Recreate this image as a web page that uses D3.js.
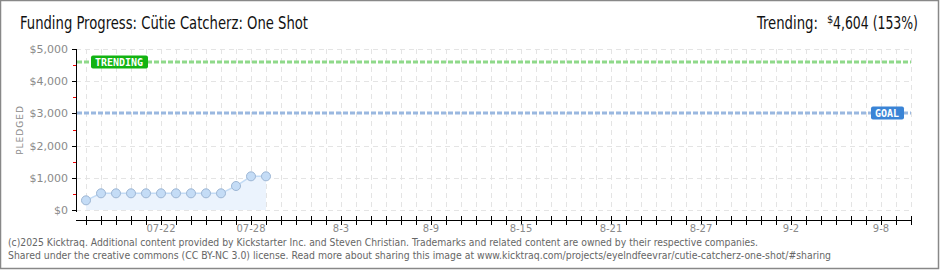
<!DOCTYPE html>
<html><head><meta charset="utf-8">
<script src="https://cdn.jsdelivr.net/npm/d3@7"></script>
<style>body{margin:0;background:#fff}svg{display:block}</style>
</head><body>
<svg id="c" width="940" height="270"></svg>
<script>
const dates = ["2025-07-17","2025-07-18","2025-07-19","2025-07-20","2025-07-21","2025-07-22","2025-07-23","2025-07-24","2025-07-25","2025-07-26","2025-07-27","2025-07-28","2025-07-29"];
const pledged = [300,518,518,518,518,518,518,518,518,518,745,1046,1046];
const goal = 3000;
const trending = 4604;
const yTicks = [0,1000,2000,3000,4000,5000];
const yTickLabels = ["$0","$1,000","$2,000","$3,000","$4,000","$5,000"];
const xLabelDates = ["2025-07-22","2025-07-28","2025-08-03","2025-08-09","2025-08-15","2025-08-21","2025-08-27","2025-09-02","2025-09-08"];
const xLabels = ["07-22","07-28","8-3","8-9","8-15","8-21","8-27","9-2","9-8"];
const titleText = "Funding Progress: Cütie Catcherz: One Shot";
const trendText = "Trending:";
const trendValue = "$4,604 (153%)";
const footer1 = "(c)2025 Kicktraq. Additional content provided by Kickstarter Inc. and Steven Christian. Trademarks and related content are owned by their respective companies.";
const footer2 = "Shared under the creative commons (CC BY-NC 3.0) license. Read more about sharing this image at www.kicktraq.com/projects/eyelndfeevrar/cutie-catcherz-one-shot/#sharing";

const DAY = 86400000;
const svg = d3.select("#c");
const parse = s => new Date(s + "T00:00:00Z");
const x = d3.scaleUtc()
  .domain([new Date(parse("2025-07-17").getTime() - DAY*2/3), new Date(parse("2025-09-10").getTime() + DAY/15)])
  .range([76, 912]);
const y = d3.scaleLinear().domain([0, 5000]).range([210, 49]);
const FONT_T = "'Liberation Sans Narrow','DejaVu Sans Condensed',sans-serif";

// border
svg.append("rect").attr("x",0.5).attr("y",0.5).attr("width",938).attr("height",268)
  .attr("fill","#fff").attr("stroke","#888").attr("stroke-width",1.5);

// title
svg.append("text").attr("x",20).attr("y",29).attr("font-family",FONT_T)
  .attr("font-size",17).attr("fill","#111").attr("textLength",288).attr("lengthAdjust","spacingAndGlyphs").text(titleText);
svg.append("text").attr("x",757).attr("y",29).attr("font-family",FONT_T).attr("font-size",17).attr("fill","#111")
  .attr("textLength",61).attr("lengthAdjust","spacingAndGlyphs").text(trendText);
svg.append("text").attr("x",827).attr("y",23).attr("font-family",FONT_T).attr("font-size",11).attr("fill","#111").text("$");
svg.append("text").attr("x",833).attr("y",29).attr("font-family",FONT_T).attr("font-size",17).attr("fill","#111")
  .attr("textLength",85).attr("lengthAdjust","spacingAndGlyphs").text(trendValue.slice(1));

// grid
const days = d3.utcDay.range(parse("2025-07-17"), new Date(parse("2025-09-10").getTime()+1));
svg.append("g").selectAll("line").data(days).join("line")
  .attr("x1",d=>Math.round(x(d))+0.5).attr("x2",d=>Math.round(x(d))+0.5).attr("y1",49).attr("y2",210)
  .attr("stroke","#e4e4e4").attr("stroke-dasharray","5,4");
svg.append("g").selectAll("line").data(yTicks.filter(v=>v!==goal)).join("line")
  .attr("x1",76).attr("x2",912).attr("y1",d=>Math.round(y(d))+0.5).attr("y2",d=>Math.round(y(d))+0.5)
  .attr("stroke","#e4e4e4").attr("stroke-dasharray","5,4");

// area + line + points
const pts = dates.map((d,i)=>({d:parse(d), v:pledged[i]}));
svg.append("path").datum(pts)
  .attr("d", d3.area().x(p=>x(p.d)).y0(y(0)).y1(p=>y(p.v)))
  .attr("fill","#ebf3fd");
svg.append("path").datum(pts)
  .attr("d", d3.line().x(p=>x(p.d)).y(p=>y(p.v)))
  .attr("fill","none").attr("stroke","#c3dbf5").attr("stroke-width",1.5);
svg.append("g").selectAll("circle").data(pts).join("circle")
  .attr("cx",p=>x(p.d)).attr("cy",p=>y(p.v)).attr("r",4.5)
  .attr("fill","#c4dcf6").attr("stroke","#9db6d4").attr("stroke-width",1);

// goal & trending lines
svg.append("line").attr("x1",77).attr("x2",911).attr("y1",Math.round(y(goal))).attr("y2",Math.round(y(goal)))
  .attr("stroke","#9ab8e0").attr("stroke-width",3).attr("stroke-dasharray","5,2");
svg.append("line").attr("x1",77).attr("x2",911).attr("y1",Math.round(y(trending))).attr("y2",Math.round(y(trending)))
  .attr("stroke","#8fd98a").attr("stroke-width",3).attr("stroke-dasharray","5,2");

// labels on lines
function tag(xx, yy, w, txt, fill){
  svg.append("rect").attr("x",xx).attr("y",yy-6.5).attr("width",w).attr("height",13).attr("rx",2)
    .attr("fill",fill);
  svg.append("text").attr("x",xx+4).attr("y",yy+4).attr("font-family","'DejaVu Sans Mono',monospace")
    .attr("font-size",10).attr("font-weight","bold").attr("fill","#fff")
    .attr("textLength",w-9).attr("lengthAdjust","spacingAndGlyphs").text(txt);
}
tag(91, Math.round(y(trending)), 57, "TRENDING", "#12b312");
tag(871, Math.round(y(goal)), 33, "GOAL", "#3a84d6");

// y axis
svg.append("line").attr("x1",76.5).attr("x2",76.5).attr("y1",49).attr("y2",212).attr("stroke","#000");
svg.append("g").selectAll("line").data(yTicks).join("line")
  .attr("x1",72).attr("x2",77).attr("y1",d=>Math.round(y(d))+0.5).attr("y2",d=>Math.round(y(d))+0.5).attr("stroke","#000");
svg.append("g").selectAll("line").data(yTicks.slice(0,-1).map(v=>v+500)).join("line")
  .attr("x1",73).attr("x2",76).attr("y1",d=>Math.round(y(d))+0.5).attr("y2",d=>Math.round(y(d))+0.5).attr("stroke","#e00");
svg.append("g").selectAll("text").data(yTicks).join("text")
  .attr("x",68).attr("y",d=>y(d)+4).attr("text-anchor","end")
  .attr("font-family","'DejaVu Sans',sans-serif").attr("font-size",11).attr("fill","#8a8a8a")
  .text((d,i)=>yTickLabels[i]);
svg.append("text").attr("transform","translate(23,130) rotate(-90)").attr("text-anchor","middle")
  .attr("font-family","'DejaVu Sans',sans-serif").attr("font-size",9).attr("letter-spacing",1).attr("fill","#8a8a8a").text("PLEDGED");

// x axis
svg.append("line").attr("x1",76).attr("x2",912).attr("y1",220.5).attr("y2",220.5).attr("stroke","#000");
svg.append("g").selectAll("line").data(days).join("line")
  .attr("x1",d=>Math.round(x(d))+0.5).attr("x2",d=>Math.round(x(d))+0.5).attr("y1",216).attr("y2",225).attr("stroke","#000");
svg.append("g").selectAll("text").data(xLabelDates).join("text")
  .attr("x",d=>x(parse(d))).attr("y",232).attr("text-anchor","middle")
  .attr("font-family","'DejaVu Sans',sans-serif").attr("font-size",10).attr("fill","#8a8a8a")
  .text((d,i)=>xLabels[i]);

// footer
svg.append("text").attr("x",8).attr("y",246).attr("font-family","'DejaVu Sans',sans-serif").attr("font-size",10)
  .attr("fill","#666").attr("textLength",750).attr("lengthAdjust","spacingAndGlyphs").text(footer1);
svg.append("text").attr("x",8).attr("y",259).attr("font-family","'DejaVu Sans',sans-serif").attr("font-size",10)
  .attr("fill","#666").attr("textLength",823).attr("lengthAdjust","spacingAndGlyphs").text(footer2);
</script>
</body></html>
